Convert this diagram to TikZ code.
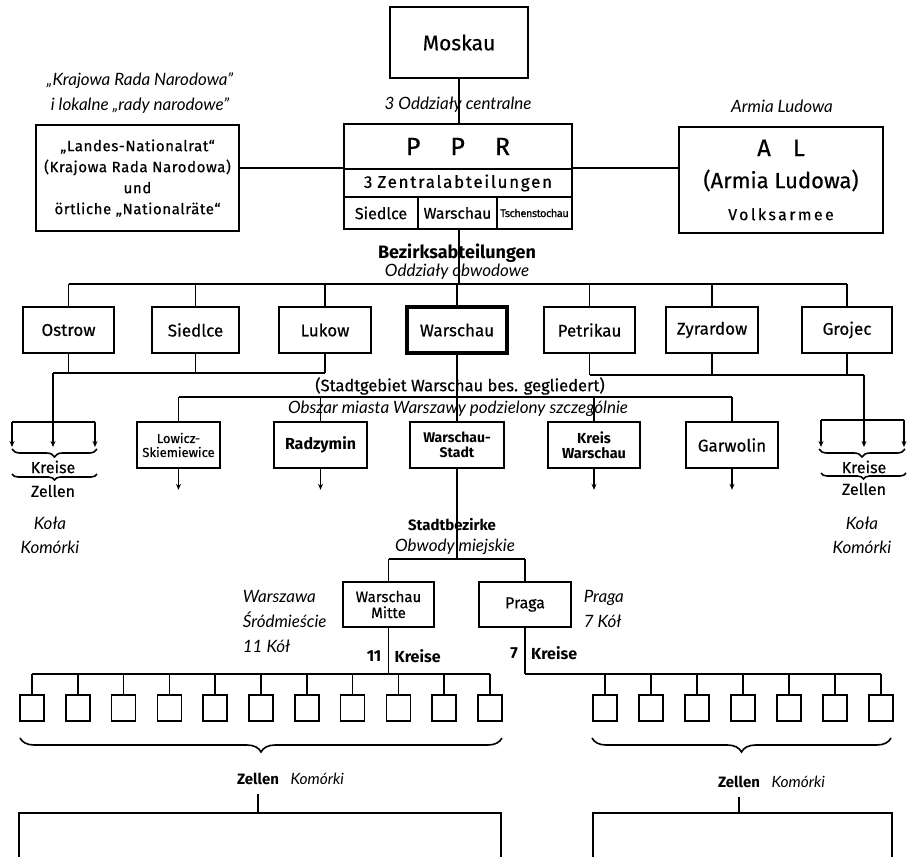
\documentclass[tikz,border=0pt]{standalone}
\usepackage{fontspec}
\setmainfont{Fira Sans}
\newfontfamily\medf{Fira Sans}[FakeBold=0.5]
\newfontfamily\itf{Lato}
\usetikzlibrary{arrows.meta,decorations.pathreplacing}
\newcommand\fsz[2]{\fontsize{#1}{#2}\selectfont}

\begin{document}
\begin{tikzpicture}[x=1pt,y=-1pt,line width=1.6pt,
    box/.style={draw,inner sep=0pt,align=center},
    lbl/.style={inner sep=0pt,align=center},
    ital/.style={lbl,font=\itf\itshape\fsz{17}{25}},
    down/.style={-{Stealth[length=6pt,width=5pt]}},
    brc/.style={decorate,decoration={brace,mirror,amplitude=#1}},
    cell/.style={draw,minimum width=24,minimum height=26,inner sep=0pt}]
    \useasboundingbox (0,0) rectangle (908,857);

    % Zentrale
    \node[box,minimum width=138,minimum height=71,font=\medf\fsz{21}{24}] (moskau) at (459,42.5) {Moskau};
    \node[ital] (oddc) at (458,105) {3 Oddziały centralne};
    \node[box,minimum width=228,minimum height=45,font=\medf\fsz{25}{26}] (ppr) at (458,146.5) {P\hspace{30pt}P\hspace{30pt}R};
    \node[box,minimum width=228,minimum height=28,font=\medf\fsz{17}{18}\addfontfeatures{LetterSpace=10}] (zentral) at (458,183) {3\hspace{5pt}Zentralabteilungen};
    \node[box,minimum width=74,minimum height=32,font=\medf\fsz{16}{18}] (zsiedlce) at (381,213) {Siedlce};
    \node[box,minimum width=79,minimum height=32,font=\medf\fsz{15.5}{18}] (zwarschau) at (457.5,213) {Warschau};
    \node[box,minimum width=75,minimum height=32,font=\medf\fsz{11}{14}\addfontfeatures{LetterSpace=-4}] (ztschen) at (534.5,213) {Tschenstochau};

    \node[box,minimum width=203,minimum height=106,font=\medf\fsz{15}{21}\addfontfeatures{LetterSpace=4}] (knr) at (137.5,178)
        {„Landes-Nationalrat“\\(Krajowa Rada Narodowa)\\und\\örtliche „Nationalräte“};
    \node[ital] (knrpl) at (140,93) {„Krajowa Rada Narodowa”\\i lokalne „rady narodowe”};
    \node[box,minimum width=204,minimum height=106,font=\medf\fsz{22}{32}] (al) at (781,180)
        {{\fsz{24}{32}A\hspace{22pt}L}\\(Armia Ludowa)\\{\fsz{16}{30}\addfontfeatures{LetterSpace=15}Volksarmee}};
    \node[ital] (alpl) at (782,106) {Armia Ludowa};

    \draw (moskau.south) -- (moskau.south |- ppr.north);
    \draw (knr.east |- zentral.north) -- (zentral.north west);
    \draw (zentral.north east) -- (al.west |- zentral.north);

    % Bezirke
    \node[lbl,font=\bfseries\fsz{18}{18}] (bezirk) at (457,253) {Bezirksabteilungen};
    \node[ital] (bezirkpl) at (457,272) {Oddziały obwodowe};
    \coordinate (bzbar) at (459,284);
    \draw (moskau.south |- zwarschau.south) -- (moskau.south |- bzbar);

    \foreach \n/\x/\w/\t in {ostrow/68.5/91/Ostrow,siedlce/195.5/87/Siedlce,lukow/325/92/Lukow,
        petrikau/589.5/91/Petrikau,zyrardow/712/92/Zyrardow,grojec/847/90/Grojec}
        \node[box,minimum width=\w,minimum height=46,font=\medf\fsz{17}{18}] (\n) at (\x,330) {\t};
    \node[box,line width=3.5pt,minimum width=100,minimum height=46,font=\medf\fsz{17}{18}] (warschau) at (457,330) {Warschau};

    \draw (ostrow.north |- bzbar) -- (grojec.north |- bzbar);
    \foreach \n in {ostrow,siedlce,lukow,warschau,petrikau,zyrardow,grojec}
        \draw (\n.north) -- (\n.north |- bzbar);

    % Kreise links und rechts
    \coordinate (kl) at (53,373);
    \coordinate (kr) at (864,375);
    \draw (kl) -- (lukow.south |- kl);
    \foreach \n in {ostrow,siedlce,lukow} \draw (\n.south) -- (\n.south |- kl);
    \draw (petrikau.south |- kr) -- (kr);
    \foreach \n in {petrikau,zyrardow,grojec} \draw (\n.south) -- (\n.south |- kr);

    \coordinate (klw) at (12,422);
    \coordinate (klg) at (53,422);
    \coordinate (kle) at (95,422);
    \draw (kl) -- (klg);
    \draw (klw) -- (kle);
    \foreach \c in {klw,klg,kle} \draw[down] (\c) -- ++(0,25);
    \draw[brc=8] (12,449) -- (97,449);
    \node[lbl,font=\medf\fsz{16}{18}] (kreisel) at (53,467) {Kreise};
    \draw[brc=6] (12,474) -- (97,474);
    \node[lbl,font=\medf\fsz{16}{18}] (zellenl) at (53,491) {Zellen};
    \node[ital,font=\itf\itshape\fsz{17}{24}] (kolal) at (50,535) {Koła\\Komórki};

    \coordinate (krw) at (821,420);
    \coordinate (krg) at (864,420);
    \coordinate (kre) at (904,420);
    \draw (kr) -- (krg);
    \draw (krw) -- (kre);
    \foreach \c in {krw,krg,kre} \draw[down] (\c) -- ++(0,27);
    \draw[brc=8] (819,449) -- (905,449);
    \node[lbl,font=\medf\fsz{16}{18}] (kreiser) at (864,467) {Kreise};
    \draw[brc=6] (821,473) -- (906,473);
    \node[lbl,font=\medf\fsz{16}{18}] (zellenr) at (864,489) {Zellen};
    \node[ital,font=\itf\itshape\fsz{17}{24}] (kolar) at (862,535) {Koła\\Komórki};

    % Stadtgebiet
    \node[lbl,font=\medf\fsz{16.5}{18}] (stadtgeb) at (460,386) {(Stadtgebiet Warschau bes. gegliedert)};
    \coordinate (sgbar) at (459,397);
    \node[ital] (stadtgebpl) at (458,409) {Obszar miasta Warszawy podzielony szczególnie};

    \node[box,minimum width=83,minimum height=46,font=\medf\fsz{13}{14}] (lowicz) at (178.5,445) {Lowicz-\\Skiemiewice};
    \node[box,minimum width=93,minimum height=46,font=\bfseries\fsz{16}{18}] (radzymin) at (320.5,445) {Radzymin};
    \node[box,minimum width=94,minimum height=46,font=\bfseries\fsz{14}{15}] (wstadt) at (457,445) {Warschau-\\Stadt};
    \node[box,minimum width=92,minimum height=46,font=\bfseries\fsz{14.5}{15}] (kreisw) at (594,445) {Kreis\\Warschau};
    \node[box,minimum width=92,minimum height=46,font=\medf\fsz{17}{18}] (garwolin) at (732,445) {Garwolin};

    \draw (lowicz.north |- sgbar) -- (garwolin.north |- sgbar);
    \foreach \n in {lowicz,radzymin,kreisw,garwolin} {
        \draw (\n.north) -- (\n.north |- sgbar);
        \draw[down] (\n.south) -- ++(0,21);
    }
    \draw (warschau.south) -- (wstadt.north);

    % Stadtbezirke
    \node[lbl,font=\bfseries\fsz{15}{16}] (stadtbez) at (452,525) {Stadtbezirke};
    \node[ital] (stadtbezpl) at (455,547) {Obwody miejskie};
    \coordinate (sbbar) at (457,559);
    \draw (wstadt.south) -- (wstadt.south |- sbbar);

    \node[box,minimum width=91,minimum height=45,font=\medf\fsz{15}{16}] (mitte) at (388.5,604.5) {Warschau\\Mitte};
    \node[box,minimum width=92,minimum height=45,font=\medf\fsz{16}{18}] (praga) at (525,604.5) {Praga};
    \draw (mitte.north |- sbbar) -- (praga.north |- sbbar);
    \draw (mitte.north) -- (mitte.north |- sbbar);
    \draw (praga.north) -- (praga.north |- sbbar);

    \node[ital,align=left,anchor=west] (mittepl) at (242,621) {Warszawa\\Śródmieście\\11 Kół};
    \node[ital,align=left,anchor=west] (pragapl) at (583,608.5) {Praga\\7 Kół};

    % Kreise und Zellen
    \coordinate (lbar) at (388.5,674);
    \coordinate (rbar) at (525,674);
    \draw (mitte.south) -- (lbar)
        node[pos=0.62,left=3pt,font=\bfseries\fsz{16}{18}] (k11) {11}
        node[pos=0.62,right=2pt,font=\bfseries\fsz{16}{18}] (k11r) {Kreise};
    \draw (praga.south) -- (rbar)
        node[pos=0.55,left=3pt,font=\bfseries\fsz{16}{18}] (k7) {7}
        node[pos=0.55,right=2pt,font=\bfseries\fsz{16}{18}] (k7r) {Kreise};

    \foreach \i in {0,...,10} {
        \node[cell] (l\i) at ({32+45.8*\i},708) {};
        \draw (l\i.north) -- (l\i.north |- lbar);
    }
    \draw (l0.north |- lbar) -- (l10.north |- lbar);
    \foreach \i in {0,...,6} {
        \node[cell] (r\i) at ({605+46*\i},708) {};
        \draw (r\i.north) -- (r\i.north |- rbar);
    }
    \draw (rbar) -- (r6.north |- rbar);

    \draw[brc=14] (20,738) -- (502,738);
    \draw[brc=14] (592,738) -- (891,738);

    \node[lbl,font=\bfseries\fsz{15}{18}] (zelll) at (258,779) {Zellen};
    \node[ital,font=\itf\itshape\fsz{15.5}{18},anchor=base west] (zelllpl) at ([xshift=10pt]zelll.base east) {Komórki};
    \node[lbl,font=\bfseries\fsz{15}{18}] (zellr) at (739,782) {Zellen};
    \node[ital,font=\itf\itshape\fsz{15.5}{18},anchor=base west] (zellrpl) at ([xshift=10pt]zellr.base east) {Komórki};

    \node[draw,minimum width=482,minimum height=80,anchor=north west] (bottoml) at (18,812) {};
    \node[draw,minimum width=299,minimum height=80,anchor=north west] (bottomr) at (592,812) {};
    \draw ([yshift=-8pt]zelll.south) -- (zelll.south |- bottoml.north);
    \draw ([yshift=-8pt]zellr.south) -- (zellr.south |- bottomr.north);
\end{tikzpicture}
\end{document}
